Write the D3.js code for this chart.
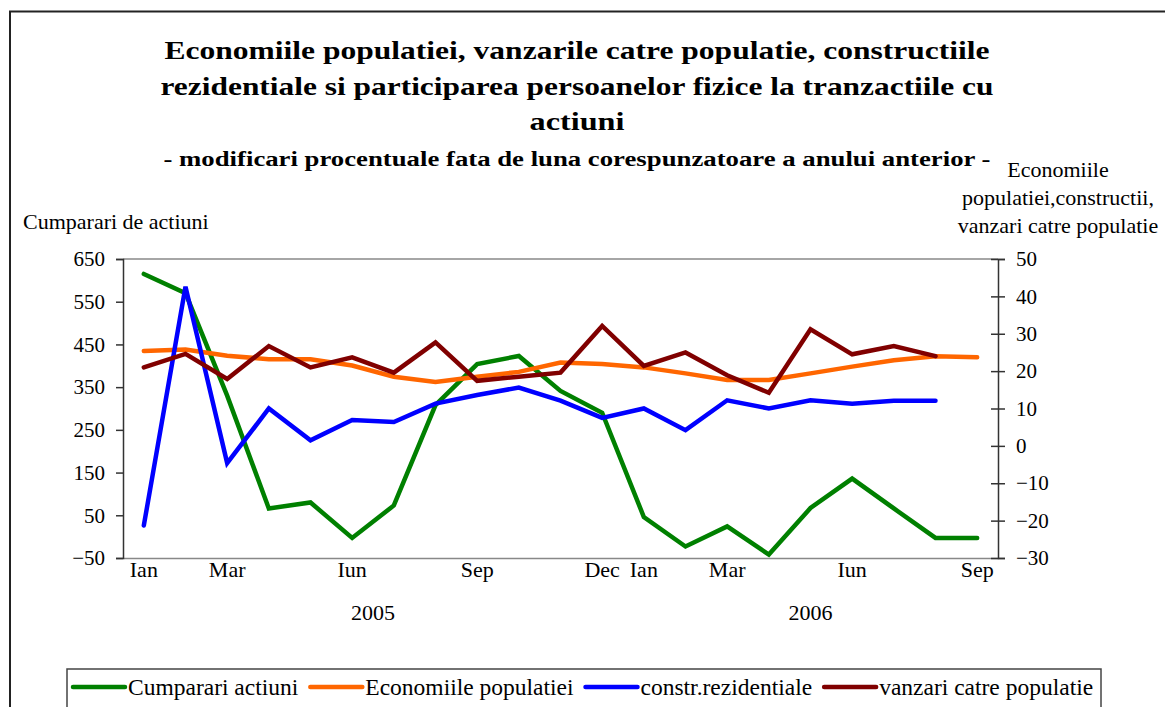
<!DOCTYPE html>
<html>
<head>
<meta charset="utf-8">
<script src="https://cdn.jsdelivr.net/npm/d3@7"></script>
<style>
    body { margin: 0; background: #fff; }
    svg { display: block; }
    svg text { font-family: "Liberation Serif", "Times New Roman", serif; }
</style>
</head>
<body>
<div id="chart"></div>
<script>
// months on the x axis, Ian 2005 .. Sep 2006
var months = ["2005-01", "2005-02", "2005-03", "2005-04", "2005-05", "2005-06", "2005-07",
    "2005-08", "2005-09", "2005-10", "2005-11", "2005-12", "2006-01", "2006-02", "2006-03",
    "2006-04", "2006-05", "2006-06", "2006-07", "2006-08", "2006-09"];
var monthNames = ["Ian", "Feb", "Mar", "Apr", "Mai", "Iun", "Iul", "Aug", "Sep", "Oct", "Noi", "Dec"];
var shownMonths = ["2005-01", "2005-03", "2005-06", "2005-09", "2005-12",
    "2006-01", "2006-03", "2006-06", "2006-09"];
var years = ["2005", "2006"];

// left axis
var cumparariActiuni = [615, 570, 330, 66, 80, -3, 73, 308, 404, 423, 341, 290,
    46, -23, 24, -42, 67, 136, 66, -3, -3];
// right axis
var economiile = [25.4, 25.8, 24.1, 23.2, 23.2, 21.5, 18.5, 17.1, 18.5, 19.8, 22.3, 21.9,
    21.0, 19.4, 17.6, 17.6, 19.4, 21.2, 22.9, 24.0, 23.7];
var constrRezidentiale = [-21.3, 42.6, -4.6, 10, 1.5, 6.9, 6.4, 11.3, 13.6, 15.6, 12.1, 7.5,
    10, 4.2, 12.2, 10, 12.2, 11.3, 12.1, 12.1, null];
var vanzari = [21.0, 24.6, 17.9, 26.7, 21.0, 23.7, 19.6, 27.7, 17.4, 18.5, 19.6, 32.1,
    21.4, 25.0, 18.9, 14.2, 31.2, 24.5, 26.7, 24.0, null];

var leftTicks = [-50, 50, 150, 250, 350, 450, 550, 650];
var rightTicks = [-30, -20, -10, 0, 10, 20, 30, 40, 50];

var series = [
    { name: "Cumparari actiuni", values: cumparariActiuni, axis: "left", color: "#008000" },
    { name: "Economiile populatiei", values: economiile, axis: "right", color: "#ff6600" },
    { name: "constr.rezidentiale", values: constrRezidentiale, axis: "right", color: "#0000ff" },
    { name: "vanzari catre populatie", values: vanzari, axis: "right", color: "#800000" }
];

var width = 1165, height = 707;
var margin = { top: 259, right: 167, bottom: 149, left: 123 };

var svg = d3.select("#chart").append("svg")
    .attr("width", width)
    .attr("height", height);

// outer frame (only left and top edges show)
svg.append("path")
    .attr("d", "M10," + height + "V11.5H" + width)
    .attr("fill", "none")
    .attr("stroke", "#222")
    .attr("stroke-width", 2);

// titles
var titleLines = [
    { text: "Economiile populatiei, vanzarile catre populatie, constructiile", y: 59, len: 825 },
    { text: "rezidentiale si participarea persoanelor fizice la tranzactiile cu", y: 95, len: 833 },
    { text: "actiuni", y: 130, len: 95 }
];
titleLines.forEach(function (l) {
    svg.append("text")
        .attr("x", 577).attr("y", l.y)
        .attr("text-anchor", "middle")
        .attr("font-size", "26px").attr("font-weight", "bold")
        .attr("textLength", l.len).attr("lengthAdjust", "spacingAndGlyphs")
        .text(l.text);
});
svg.append("text")
    .attr("x", 577).attr("y", 166)
    .attr("text-anchor", "middle")
    .attr("font-size", "20px").attr("font-weight", "bold")
    .attr("textLength", 827).attr("lengthAdjust", "spacingAndGlyphs")
    .text("- modificari procentuale fata de luna corespunzatoare a anului anterior -");

// axis titles
svg.append("text")
    .attr("x", 23).attr("y", 229)
    .attr("font-size", "22px")
    .text("Cumparari de actiuni");
var rightTitle = svg.append("text")
    .attr("text-anchor", "middle")
    .attr("font-size", "22px");
["Economiile", "populatiei,constructii,", "vanzari catre populatie"].forEach(function (t, i) {
    rightTitle.append("tspan").attr("x", 1058).attr("y", 177 + i * 28).text(t);
});

var x = d3.scaleBand()
    .domain(months)
    .range([margin.left, width - margin.right]);
var yLeft = d3.scaleLinear()
    .domain([-50, 650])
    .range([height - margin.bottom, margin.top]);
var yRight = d3.scaleLinear()
    .domain([-30, 50])
    .range([height - margin.bottom, margin.top]);

var cx = function (m) { return x(m) + x.bandwidth() / 2; };

// top border of plot area
svg.append("line")
    .attr("x1", margin.left).attr("x2", width - margin.right)
    .attr("y1", margin.top).attr("y2", margin.top)
    .attr("stroke", "#888").attr("stroke-width", 1.5);

// x axis
var xAxis = svg.append("g")
    .attr("transform", "translate(0," + (height - margin.bottom) + ")")
    .call(d3.axisBottom(x)
        .tickValues(shownMonths)
        .tickSize(0)
        .tickPadding(3)
        .tickFormat(function (d) { return monthNames[+d.slice(5) - 1]; }))
    .attr("font-family", null).attr("font-size", null);
xAxis.select(".domain").attr("stroke", "#888").attr("stroke-width", 1.5);
xAxis.selectAll("text").attr("font-size", "22px").attr("fill", "#000");

// year labels centred under their months
years.forEach(function (yr) {
    var ms = months.filter(function (m) { return m.slice(0, 4) === yr; });
    var mid = (x(ms[0]) + x(ms[ms.length - 1]) + x.bandwidth()) / 2;
    svg.append("text")
        .attr("x", mid).attr("y", 620)
        .attr("text-anchor", "middle")
        .attr("font-size", "22px")
        .text(yr);
});

// left axis
var leftAxis = svg.append("g")
    .attr("transform", "translate(" + margin.left + ",0)")
    .call(d3.axisLeft(yLeft).tickValues(leftTicks).tickSizeOuter(0).tickSize(7).tickPadding(11))
    .attr("font-family", null).attr("font-size", null);
leftAxis.select(".domain").attr("stroke", "#333").attr("stroke-width", 1.5);
leftAxis.selectAll("line").attr("stroke", "#333").attr("stroke-width", 1.5);
leftAxis.selectAll("text").attr("font-size", "21px").attr("fill", "#000");

// right axis, ticks cross the line
var rightAxis = svg.append("g")
    .attr("transform", "translate(" + (width - margin.right) + ",0)")
    .call(d3.axisRight(yRight).tickValues(rightTicks).tickSizeOuter(0).tickSize(7).tickPadding(11))
    .attr("font-family", null).attr("font-size", null);
rightAxis.select(".domain").attr("stroke", "#333").attr("stroke-width", 1.5);
rightAxis.selectAll(".tick line").attr("x1", -7).attr("stroke", "#333").attr("stroke-width", 1.5);
rightAxis.selectAll("text").attr("font-size", "21px").attr("fill", "#000");

// series lines
series.forEach(function (s) {
    var yScale = s.axis === "left" ? yLeft : yRight;
    var line = d3.line()
        .defined(function (d) { return d != null; })
        .x(function (d, i) { return cx(months[i]); })
        .y(function (d) { return yScale(d); });
    svg.append("path")
        .datum(s.values)
        .attr("d", line)
        .attr("fill", "none")
        .attr("stroke", s.color)
        .attr("stroke-width", 4.5)
        .attr("stroke-linejoin", "miter")
        .attr("stroke-linecap", "round");
});

// legend
svg.append("rect")
    .attr("x", 67).attr("y", 669)
    .attr("width", 1034).attr("height", 60)
    .attr("fill", "none")
    .attr("stroke", "#444").attr("stroke-width", 1.5);

var lx = 73;
series.forEach(function (s) {
    svg.append("line")
        .attr("x1", lx).attr("x2", lx + 52)
        .attr("y1", 687).attr("y2", 687)
        .attr("stroke", s.color)
        .attr("stroke-width", 4.5)
        .attr("stroke-linecap", "round");
    var t = svg.append("text")
        .attr("x", lx + 55).attr("y", 695)
        .attr("font-size", "23.5px")
        .text(s.name);
    lx += 55 + t.node().getComputedTextLength() + 12;
});
</script>
</body>
</html>
